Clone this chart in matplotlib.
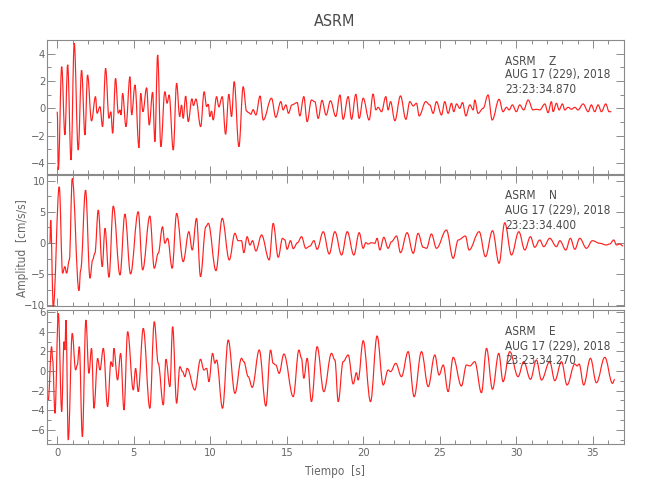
import matplotlib
matplotlib.use('Agg')
import matplotlib.pyplot as plt
from matplotlib import font_manager as fm
from matplotlib.ticker import MultipleLocator
from matplotlib.path import Path
from matplotlib.patches import PathPatch

# ---------------- data ----------------
station = "ASRM"
components = ["Z", "N", "E"]
date_label = "AUG 17 (229), 2018"
start_times = ["23:23:34.870", "23:23:34.400", "23:23:34.270"]

z_t = [0.0, 0.07, 0.29, 0.5, 0.68, 0.9, 1.11, 1.37, 1.59, 1.81, 1.98, 2.24, 2.5, 2.6, 2.79, 2.96,
       3.16, 3.38, 3.5, 3.62, 3.81, 3.99, 4.1, 4.17, 4.27, 4.49, 4.75, 4.86, 5.08, 5.34, 5.45, 5.6,
       5.84, 6.01, 6.23, 6.38, 6.56, 6.77, 7.03, 7.18, 7.31, 7.58, 7.8, 8.0, 8.12, 8.23, 8.39, 8.56,
       8.8, 8.9, 9.06, 9.37, 9.6, 9.76, 9.87, 9.97, 10.08, 10.19, 10.41, 10.56, 10.78, 11.0, 11.21,
       11.39, 11.56, 11.87, 12.15, 12.37, 12.48, 12.65, 12.8, 12.98, 13.25, 13.46, 14.0, 14.28,
       14.61, 14.76, 14.94, 15.11, 15.33, 15.68, 15.85, 16.11, 16.33, 16.61, 16.83, 17.05, 17.3,
       17.57, 17.85, 18.2, 18.47, 18.68, 19.01, 19.23, 19.51, 19.73, 19.99, 20.38, 20.64, 20.82,
       20.97, 21.19, 21.47, 21.62, 21.78, 22.06, 22.43, 22.78, 23.04, 23.26, 23.47, 23.65, 24.08,
       24.34, 24.56, 24.78, 25.11, 25.32, 25.54, 25.76, 25.91, 26.09, 26.3, 26.48, 26.7, 26.96,
       27.18, 27.28, 27.5, 27.83, 28.15, 28.42, 28.87, 29.13, 29.35, 29.53, 29.74, 30.0, 30.22,
       30.48, 30.77, 31.09, 31.31, 31.53, 31.86, 32.07, 32.29, 32.4, 32.62, 32.79, 33.01, 33.16,
       33.38, 33.6, 33.82, 34.03, 34.36, 34.69, 34.9, 35.12, 35.34, 35.56, 35.84, 36.06, 36.21]
z_v = [-0.25, -4.5, 3.06, -1.96, 3.2, -3.8, 4.78, -3.07, 2.8, -1.96, 2.45, -0.93, 0.86, -0.37, 0.12, -1.35,
       2.94, -0.74, -0.25, -1.84, 2.2, -0.37, -0.12, -0.49, 1.1, -1.35, 2.32, -0.49, 1.71, -2.9, 1.1, -0.25,
       1.51, -1.23, 1.18, -2.45, 3.92, -2.82, 1.22, 0.37, 0.98, -3.07, 1.84, -0.61, 0.24, -0.74, 0.9, -0.98,
       0.7, 0.2, 0.68, -1.35, 1.22, 0.12, 0.3, -0.61, -0.2, -0.86, 0.86, 0.1, 0.86, -1.91, 1.03,
       -0.61, 1.96, -2.82, 1.59, -0.2, -0.3, -0.44, -0.1, -0.49, 0.9, -0.86, 0.74, -0.66,
       0.49, -0.12, 0.25, -0.37, 0.25, 0.42, -0.56, 0.86, -0.98, 0.61, 0.49, -0.74, 0.58,
       -0.5, 0.55, -0.6, 0.98, -0.81, 0.86, -0.81, 1.03, -0.74, 0.74, -0.86, 1.05, -0.12,
       0.07, -0.25, 0.86, -0.12, 0.49, -0.91, 0.91, -0.81, 0.49, 0.17, 0.37, -0.56, 0.49,
       0.25, -0.37, 0.49, -0.49, 0.49, -0.37, 0.37, -0.25, 0.32, 0.0, 0.42, -0.56, 0.25,
       -0.12, 0.61, -0.37, 0.0, 0.98, -0.86, 0.66, -0.25, 0.07, -0.12, 0.25, -0.25, 0.25,
       -0.12, 0.61, -0.12, -0.07, -0.12, 0.32, -0.32, 0.49, -0.25, 0.37, -0.12, 0.32, -0.12,
       0.07, -0.07, 0.07, -0.12, 0.32, -0.25, 0.25, -0.25, 0.25, -0.25, 0.32, -0.25, -0.25]

n_t = [-0.48, -0.43, -0.26, 0.13, 0.35, 0.5, 0.61, 0.79, 0.98, 1.42, 1.53, 1.85, 2.14, 2.31, 2.46, 2.68,
       2.94, 3.12, 3.38, 3.66, 4.1, 4.42, 4.79, 5.29, 5.58, 6.05, 6.34, 6.6, 6.88, 7.03, 7.21, 7.51,
       7.8, 8.23, 8.6, 8.82, 9.1, 9.36, 9.71, 9.87, 10.37, 10.78, 11.24, 11.61, 11.82, 12.04, 12.19,
       12.41, 12.59, 12.76, 12.98, 13.35, 13.85, 14.11, 14.44, 14.72, 14.87, 15.02, 15.24, 15.42,
       15.7, 15.96, 16.24, 16.51, 16.77, 16.98, 17.38, 17.77, 18.14, 18.58, 18.95, 19.38, 19.73,
       19.99, 20.16, 20.32, 20.53, 20.75, 20.9, 21.08, 21.34, 21.62, 21.84, 22.17, 22.43, 22.86,
       23.26, 23.58, 23.91, 24.13, 24.45, 24.78, 25.43, 25.87, 26.2, 26.67, 26.91, 27.57, 27.98,
       28.44, 28.87, 29.24, 29.68, 30.16, 30.55, 30.92, 31.2, 31.53, 31.79, 32.18, 32.62, 32.84,
       33.23, 33.53, 33.82, 34.14, 34.58, 34.97, 35.45, 35.88, 36.1, 36.36, 36.54, 36.76, 36.97]
n_v = [-0.05, 3.68, -10.2, 9.01, -4.85, -3.79, -4.85, -2.72, 10.35, -7.63, -4.32, 8.48, -5.65, -2.72, -1.65, 5.28,
       -3.79, 2.35, -5.49, 5.92, -5.12, 4.64, -4.96, 5.01, -4.32, 4.32, -4.05, -1.65, 2.61, -0.05, 0.75, -4.05,
       4.75, -2.99, 1.81, -1.12, 3.95, -5.39, 2.61, 3.15, -4.43, 3.95, -2.72, 1.55, 0.37, 0.37, -1.55,
       1.01, -0.32, 0.37, -1.28, 1.28, -2.72, 3.15, -2.29, 0.75, 0.5, -1.01, 0.37, -0.9,
       0.05, 1.01, -0.85, -0.5, 0.37, -1.01, 1.81, -1.76, 1.81, -1.92, 1.81, -1.92, 1.65,
       -0.85, 0.05, -0.16, 0.05, -0.05, 0.75, -1.12, 0.91, -0.85, 0.21, 1.12, -1.55, 1.65,
       -1.65, 1.55, -0.69, -0.85, 1.44, -0.85, 2.08, -2.45, 0.48, 1.12, -1.12, 1.81, -2.19,
       1.97, -3.25, 3.25, -1.92, 1.81, -1.12, 1.01, -0.69, 0.48, -0.59, 0.75, -0.59, 0.37,
       -1.12, 0.75, -1.01, 0.75, -0.85, 0.37, -0.05, -0.32, -0.16, 0.48, -0.32, -0.16, -0.48]

e_t = [-0.59, -0.37, -0.3, -0.15, 0.07, 0.29, 0.44, 0.5, 0.57, 0.72,
       0.98, 1.2, 1.31, 1.44, 1.64, 1.87, 2.07, 2.24, 2.4, 2.64,
       2.79, 3.01, 3.29, 3.51, 3.62, 3.7, 3.94, 4.14, 4.36, 4.6,
       4.97, 5.12, 5.29, 5.62, 6.05, 6.34, 6.6, 6.93, 7.1, 7.36,
       7.54, 7.8, 8.01, 8.19, 8.34, 8.49, 8.99, 9.36, 9.58, 9.76,
       9.91, 10.15, 10.3, 10.41, 10.8, 11.17, 11.61, 12.04, 12.19, 12.48,
       12.74, 13.2, 13.63, 13.94, 14.11, 14.28, 14.5, 14.81, 15.42, 15.79,
       15.96, 16.11, 16.33, 16.61, 16.98, 17.42, 17.92, 18.14, 18.36, 18.68,
       19.01, 19.34, 19.55, 19.66, 19.99, 20.47, 20.9, 21.3, 21.62, 21.78,
       22.12, 22.49, 22.93, 23.32, 23.8, 24.24, 24.67, 24.95, 25.22, 25.54,
       25.87, 26.41, 26.74, 26.96, 27.28, 27.72, 28.05, 28.44, 28.85, 29.13,
       29.57, 30.11, 30.48, 30.92, 31.31, 31.64, 32.18, 32.51, 32.95, 33.31,
       33.82, 33.97, 34.1, 34.4, 34.84, 35.23, 35.78, 36.28, 36.43]
e_v = [-2.96, 2.48, 1.12, -4.32, 5.88, -4.15, 2.99, 2.14, 5.2, -7.05,
       3.84, 0.1, 0.61, 2.48, -6.7, 5.2, -0.24, 2.31, -3.81, 1.29,
       0.1, 2.31, -3.64, 0.95, 0.44, 2.31, -0.92, 1.8, -3.98, 4.01,
       -1.94, 0.27, -2.11, 4.35, -3.81, 5.03, 0.78, -3.47, 1.19, -1.6,
       4.52, -3.3, 0.44, -0.07, -0.58, 0.27, -1.94, 1.19, 0.1, 0.27,
       -1.09, 1.8, 0.78, 1.12, -3.81, 3.16, -2.28, 1.29, 0.95, -0.58,
       -1.67, 2.14, -3.58, 2.14, 0.78, 0.61, -0.24, 1.73, -2.62, 2.14,
       1.29, -0.75, 1.29, -3.13, 2.48, -2.11, 1.8, 1.12, -3.13, 0.95,
       1.63, -1.33, -0.17, -0.93, 3.09, -3.13, 3.57, -1.43, 0.1, -0.07,
       0.78, -0.58, 1.97, -2.62, 1.97, -1.6, 1.63, -0.41, 0.61, -2.11,
       1.39, -1.53, 0.61, 0.51, 0.95, -2.22, 2.31, -1.87, 1.8, -1.09,
       1.97, -0.58, 0.95, -0.85, 1.12, -0.92, 0.95, -0.99, 0.95, -1.43,
       0.71, 0.51, 0.71, -1.43, 1.29, -1.2, 1.39, -1.26, -0.85]

series = [(z_t, z_v), (n_t, n_v), (e_t, e_v)]
ylims = [(-4.83, 5.02), (-10.1, 10.9), (-7.45, 6.22)]
ymajor = [2, 5, 2]
yminor = [1, 2.5, 1]

# ---------------- fonts ----------------
def pick_font():
    best = None
    for f in fm.fontManager.ttflist:
        n = f.name.lower()
        fn = f.fname.lower()
        st = str(f.stretch).lower()
        if f.style != 'normal':
            continue
        if 'narrow' in n or 'narrow' in fn or 'condensed' in n or 'condensed' in fn or 'condensed' in st:
            w = f.weight if isinstance(f.weight, int) else (700 if 'bold' in str(f.weight) else 400)
            score = abs(w - 350)
            if 'liberation' in n:
                score -= 50
            if best is None or score < best[0]:
                best = (score, f.fname)
    if best:
        return fm.FontProperties(fname=best[1])
    return fm.FontProperties(family='DejaVu Sans')

base_fp = pick_font()

def fp(size):
    p = base_fp.copy()
    p.set_size(size)
    return p


def wave_path(t, v, k=0.37):
    """Smooth trace through the read extrema (horizontal tangents at each reading)."""
    verts = [(t[0], v[0])]
    codes = [Path.MOVETO]
    for j in range(1, len(t)):
        dt = t[j] - t[j - 1]
        verts += [(t[j - 1] + k * dt, v[j - 1]), (t[j] - k * dt, v[j]), (t[j], v[j])]
        codes += [Path.CURVE4] * 3
    return Path(verts, codes)


AX_COL = '#8a8a8a'
LBL_COL = '#666666'
TXT_COL = '#4a4a4a'

fig = plt.figure(figsize=(6.5, 5.0), dpi=100)
left, width = 47.3 / 650, (623.5 - 47.3) / 650
boxes = [(40, 174), (175, 306), (310, 444)]
text_fracs = [(0.838, 0.74, 0.627), (0.842, 0.727, 0.618), (0.838, 0.731, 0.621)]

for i, ((t, v), (top, bot)) in enumerate(zip(series, boxes)):
    ax = fig.add_axes([left, 1 - bot / 500, width, (bot - top) / 500])
    ax.add_patch(PathPatch(wave_path(t, v), fill=False, edgecolor='#ff2020', lw=0.85,
                           clip_on=False, zorder=3))
    ax.set_xlim(-0.65, 37.0)
    ax.set_ylim(*ylims[i])
    ax.xaxis.set_major_locator(MultipleLocator(5))
    ax.xaxis.set_minor_locator(MultipleLocator(1))
    ax.yaxis.set_major_locator(MultipleLocator(ymajor[i]))
    ax.yaxis.set_minor_locator(MultipleLocator(yminor[i]))
    ax.tick_params(which='both', direction='in', top=True, right=True, color=AX_COL,
                   labelcolor=LBL_COL, width=0.7)
    ax.tick_params(which='major', length=6)
    ax.tick_params(which='minor', length=3)
    ax.tick_params(axis='y', pad=1.5)
    ax.tick_params(axis='x', pad=3)
    for s in ax.spines.values():
        s.set_color(AX_COL)
        s.set_linewidth(0.8)
    if i < 2:
        ax.tick_params(labelbottom=False)
    for lab in ax.get_xticklabels() + ax.get_yticklabels():
        lab.set_fontproperties(fp(8))
    ax.set_facecolor('none')
    lines = [f"{station}    {components[i]}", date_label, start_times[i]]
    for txt, yf in zip(lines, text_fracs[i]):
        ax.text(0.794, yf, txt, transform=ax.transAxes, ha='left', va='center',
                color=TXT_COL, fontproperties=fp(8.5), zorder=4)

fig.text(0.514, 0.957, station, ha='center', va='center', color=TXT_COL, fontproperties=fp(11.5))
fig.text(0.516, 0.0566, 'Tiempo  [s]', ha='center', va='center', color=LBL_COL, fontproperties=fp(8.5))
fig.text(0.034, 0.504, 'Amplitud  [cm/s/s]', ha='center', va='center', rotation=90,
         color=LBL_COL, fontproperties=fp(8.5))

fig.savefig('out.png', dpi=100, facecolor='white')
